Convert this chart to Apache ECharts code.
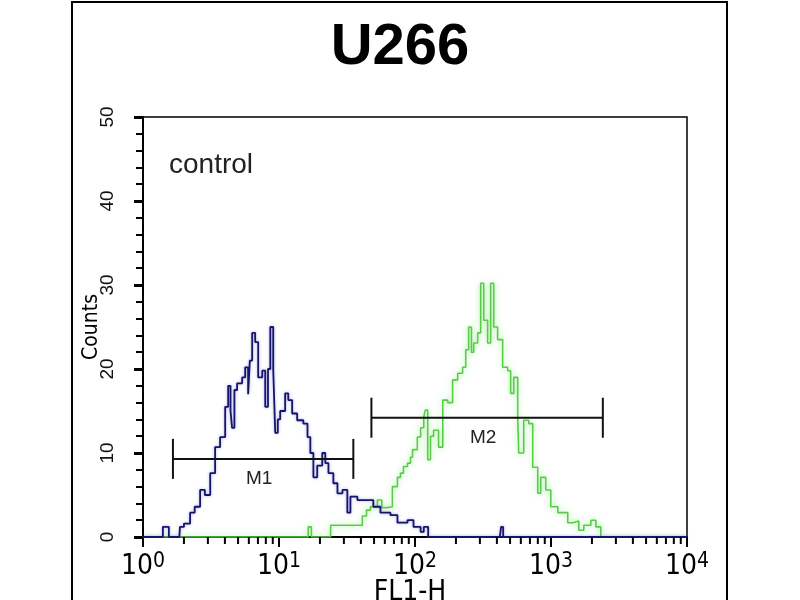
<!DOCTYPE html>
<html>
<head>
<meta charset="utf-8">
<script src="https://cdn.jsdelivr.net/npm/echarts@6/dist/echarts.min.js"></script>
<style>
html,body{margin:0;padding:0;background:#fff;}
#chart{width:800px;height:600px;}
</style>
</head>
<body>
<div id="chart"></div>
<script>
// ---- data ----
const chartTitle = 'U266';
const sampleLabel = 'control';
const xAxisName = 'FL1-H';
const yAxisName = 'Counts';
const xTickExponents = ['0', '1', '2', '3', '4'];
const xMinorTickValues = [2,3,4,5,6,7,8,9,20,30,40,50,60,70,80,90,200,300,400,500,600,700,800,900,2000,3000,4000,5000,6000,7000,8000,9000];

// control (blue) histogram: [FL1-H, count]
const controlSeries = [
  [1,0],[1.35,0],[1.4,1.2],[1.55,0],[1.85,0],[1.87,1.2],[2.0,1.6],[2.22,2.9],[2.4,3.6],[2.63,5.6],[2.85,5.0],
  [3.12,7.6],[3.39,10.7],[3.69,11.9],[4.02,15.5],[4.23,18],[4.4,15],[4.52,13],[4.7,17.5],[4.92,18.3],[5.36,19],
  [5.64,20.2],[5.93,17],[6.1,21],[6.35,24.3],[6.68,23.2],[7.03,19],[7.53,19.8],[7.92,15.5],[8.3,20],[8.63,25],
  [9.07,19.9],[9.38,12.4],[9.8,14],[10.2,15],[11.1,17.1],[11.7,16.3],[12.5,14.7],[13.6,13.9],[15.1,13.5],
  [16.2,11.9],[17.0,10],[17.9,7.1],[19.1,8.5],[20.8,10],[21.9,8.8],[23.1,7.6],[25.1,6.4],[26.9,5.2],[29.3,5.6],
  [31.8,2.9],[33.5,4.8],[37.7,4.4],[44.7,4.4],[49.4,3.6],[55.7,2.9],[66,2.6],[74.3,1.7],[88.1,2.0],[97.5,1.2],
  [110,0.6],[116,1.2],[125,0],[420,0],[430,1.2],[445,0],[10000,0]
];

// stained sample (green) histogram: [FL1-H, count]
const sampleSeries = [
  [1,0],[15.5,0],[16.4,1.2],[17.3,0],[23.9,0],[24,1.4],[37.7,1.4],[41,2.5],[44,3.2],[47,3.6],[52.9,4.4],[57,3.5],
  [62.7,3.6],[68.2,6],[74.3,7.1],[78.2,7.6],[82.3,8.4],[88.1,8.8],[92.7,9.5],[95.9,10.4],[104,11.9],[110,13],
  [116,14.3],[119,15.1],[124,9.2],[130,12],[137,12.7],[149,10.7],[160,16.3],[174,16],[189,18.7],[206,19.5],
  [224,20.2],[236,22.3],[248,25],[260,22],[270,23.1],[289,24.3],[304,30.2],[320,25.8],[342,23.1],[360,30.2],
  [379,25],[405,23.5],[441,20.2],[480,19.8],[505,17.1],[532,19],[569,14.3],[579,10],[630,13.9],[686,13.5],
  [734,8.3],[799,5.2],[840,7.1],[915,5.6],[996,3.6],[1122,2.9],[1242,2.9],[1328,1.7],[1446,1.9],[1600,0.8],
  [1742,1.4],[1963,2],[2138,1.2],[2325,0],[10000,0]
];

// gate markers
const markerNames = ['M1', 'M2'];
const markerStart = [1.66, 47.8];
const markerEnd = [35.2, 2405];
const markerLevel = [9.3, 14.2];

// ---- chart ----
const narrow = "'Liberation Sans Narrow', 'DejaVu Sans Condensed', 'Liberation Sans', sans-serif";
const chart = echarts.init(document.getElementById('chart'), null, {renderer: 'canvas'});

const markerData = markerNames.map((n, i) => [markerStart[i], markerEnd[i], markerLevel[i], n]);

const option = {
  animation: false,
  backgroundColor: '#fff',
  title: {
    text: chartTitle,
    left: 'center',
    top: 14,
    textStyle: {fontFamily: 'Liberation Sans, Arial, sans-serif', fontWeight: 'bold', fontSize: 58, color: '#000'}
  },
  graphic: [
    {type: 'rect', shape: {x: 72, y: 2, width: 655, height: 620}, style: {fill: 'none', stroke: '#000', lineWidth: 2}, silent: true, z: 0},
    {type: 'text', left: 169, top: 151, style: {text: sampleLabel, font: "28px 'Liberation Sans', Arial, sans-serif", fill: '#222'}, z: 10}
  ],
  grid: {
    left: 143, right: 113, top: 117, bottom: 63,
    containLabel: false, outerBoundsMode: 'none',
    show: true, borderColor: '#000', borderWidth: 1.5, backgroundColor: 'transparent'
  },
  xAxis: {
    type: 'log',
    logBase: 10,
    min: 1,
    max: 10000,
    name: xAxisName,
    nameLocation: 'middle',
    nameGap: 42,
    nameMoveOverlap: false,
    nameTextStyle: {fontFamily: narrow, fontSize: 28, color: '#000', padding: [0, 10, 0, 0]},
    axisLine: {show: true, lineStyle: {color: '#000', width: 2}},
    axisTick: {show: true, inside: false, length: 10, lineStyle: {color: '#000', width: 2}},
    minorTick: {show: false},
    splitLine: {show: false},
    axisLabel: {
      margin: 14,
      formatter: (v, i) => {
        const e = Math.round(Math.log10(v));
        return '{b|10}{s|' + xTickExponents[e] + '}';
      },
      rich: {
        b: {fontFamily: narrow, fontSize: 28, color: '#000', lineHeight: 30, verticalAlign: 'bottom'},
        s: {fontFamily: narrow, fontSize: 21, color: '#000', lineHeight: 30, verticalAlign: 'top', padding: [0, 0, 14, 0]}
      }
    }
  },
  yAxis: {
    type: 'value',
    min: 0,
    max: 50,
    interval: 10,
    name: yAxisName,
    nameLocation: 'middle',
    nameRotate: 90,
    nameGap: 41,
    nameMoveOverlap: false,
    nameTextStyle: {fontFamily: narrow, fontSize: 21, color: '#000'},
    axisLine: {show: true, lineStyle: {color: '#000', width: 2}},
    axisTick: {show: true, inside: false, length: 9, lineStyle: {color: '#000', width: 3}},
    minorTick: {show: true, splitNumber: 5, length: 7, lineStyle: {color: '#000', width: 2}},
    splitLine: {show: false},
    axisLabel: {
      rotate: 90, margin: 26,
      formatter: '{n|{value}}',
      rich: {n: {fontFamily: "'Liberation Sans', Arial, sans-serif", fontSize: 19, color: '#111'}}
    }
  },
  series: [
    {
      name: 'sample',
      type: 'line',
      step: 'end',
      data: sampleSeries,
      showSymbol: false,
      lineStyle: {color: '#58cc48', width: 1.6, shadowColor: 'rgba(120,235,110,0.7)', shadowBlur: 6},
      z: 3
    },
    {
      name: 'control',
      type: 'line',
      step: 'end',
      data: controlSeries,
      showSymbol: false,
      lineStyle: {color: '#15156e', width: 1.8, shadowColor: 'rgba(90,90,200,0.5)', shadowBlur: 3},
      z: 4
    },
    {
      type: 'custom',
      name: 'minorX',
      data: xMinorTickValues.map(v => [v, 0]),
      clip: false,
      silent: true,
      renderItem: (params, api) => {
        const p = api.coord([api.value(0), 0]);
        return {type: 'line', shape: {x1: p[0], y1: p[1], x2: p[0], y2: p[1] + 7}, style: {stroke: '#000', lineWidth: 2}};
      },
      z: 5
    },
    {
      type: 'custom',
      name: 'markers',
      data: markerData,
      clip: false,
      silent: true,
      renderItem: (params, api) => {
        const a = api.coord([api.value(0), api.value(2)]);
        const b = api.coord([api.value(1), api.value(2)]);
        const name = markerNames[params.dataIndex];
        const st = {stroke: '#111', lineWidth: 2};
        return {
          type: 'group',
          children: [
            {type: 'line', shape: {x1: a[0], y1: a[1], x2: b[0], y2: b[1]}, style: st},
            {type: 'line', shape: {x1: a[0], y1: a[1] - 20, x2: a[0], y2: a[1] + 20}, style: st},
            {type: 'line', shape: {x1: b[0], y1: b[1] - 20, x2: b[0], y2: b[1] + 20}, style: st},
            {type: 'text', style: {text: name, x: (a[0] + b[0]) / 2 - 4, y: a[1] + 20, align: 'center', verticalAlign: 'middle', font: "19px 'Liberation Sans', Arial, sans-serif", fill: '#222'}}
          ]
        };
      },
      z: 6
    }
  ]
};
chart.setOption(option);
</script>
</body>
</html>
